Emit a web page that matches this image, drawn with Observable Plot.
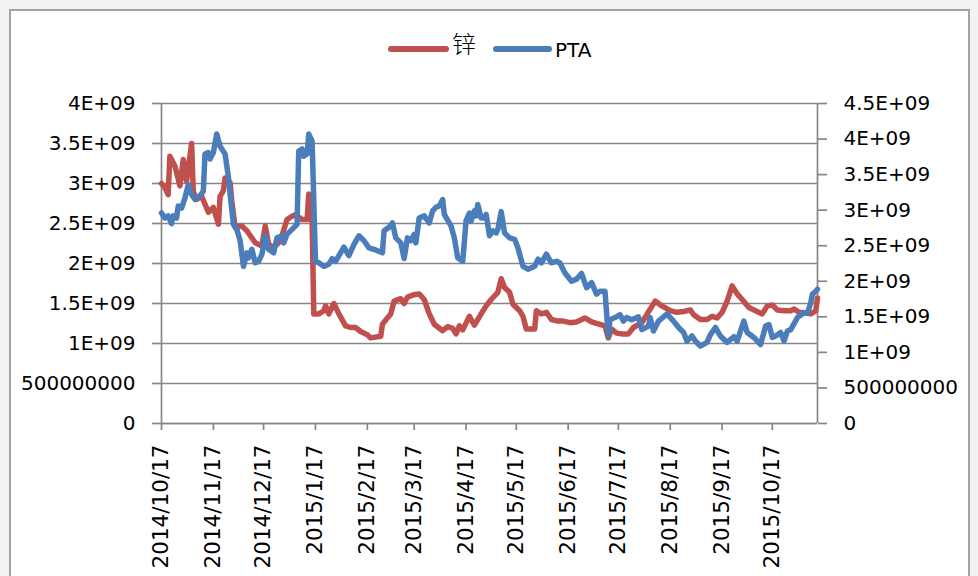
<!DOCTYPE html>
<html>
<head>
<meta charset="utf-8">
<script src="https://cdn.jsdelivr.net/npm/d3@7"></script>
<script src="https://cdn.jsdelivr.net/npm/@observablehq/plot@0.6"></script>
<style>
  html, body { margin: 0; padding: 0; background: #f2f2f2; width: 978px; height: 576px; overflow: hidden; }
  #frame { position: absolute; left: 9px; top: 9px; width: 961px; height: 640px; background: #fff; border: 2px solid #a3a3a3; box-sizing: border-box; }
  #legend { position: absolute; left: 0; top: 0; }
  #chart { position: absolute; left: 0; top: 0; }
</style>
</head>
<body>
<div id="frame"></div>
<svg id="legend" width="978" height="80"></svg>
<div id="chart"></div>
<script>
// ---- data (values in units of 1e9) ----
const seriesNames = ["锌", "PTA"];
const seriesColors = ["#c0504d", "#4a7dba"];

const zincDates = [
  "2014-10-17","2014-10-19","2014-10-21","2014-10-22","2014-10-25","2014-10-28","2014-10-30","2014-11-01","2014-11-04","2014-11-05",
  "2014-11-07","2014-11-10","2014-11-12","2014-11-14","2014-11-17","2014-11-20","2014-11-21","2014-11-23","2014-11-24","2014-11-27",
  "2014-11-28","2014-11-30","2014-12-04","2014-12-07","2014-12-12","2014-12-16","2014-12-18","2014-12-20","2014-12-23","2014-12-27",
  "2014-12-31","2015-01-03","2015-01-05","2015-01-09","2015-01-12","2015-01-13","2015-01-14","2015-01-15","2015-01-16","2015-01-19",
  "2015-01-22","2015-01-23","2015-01-25","2015-01-28","2015-01-31","2015-02-04","2015-02-07","2015-02-10","2015-02-13","2015-02-17",
  "2015-02-19","2015-02-25","2015-02-26","2015-03-01","2015-03-03","2015-03-05","2015-03-09","2015-03-11","2015-03-13","2015-03-17",
  "2015-03-20","2015-03-23","2015-03-26","2015-03-29","2015-04-03","2015-04-06","2015-04-09","2015-04-11","2015-04-13","2015-04-15",
  "2015-04-19","2015-04-22","2015-04-26","2015-04-29","2015-05-02","2015-05-06","2015-05-08","2015-05-10","2015-05-13","2015-05-15",
  "2015-05-19","2015-05-21","2015-05-23","2015-05-28","2015-05-29","2015-06-01","2015-06-04","2015-06-07","2015-06-11","2015-06-14",
  "2015-06-18","2015-06-22","2015-06-27","2015-07-01","2015-07-06","2015-07-09","2015-07-11","2015-07-13","2015-07-16","2015-07-19",
  "2015-07-23","2015-07-26","2015-07-31","2015-08-05","2015-08-08","2015-08-12","2015-08-17","2015-08-21","2015-08-25","2015-08-29",
  "2015-08-31","2015-09-04","2015-09-08","2015-09-11","2015-09-14","2015-09-17","2015-09-20","2015-09-23","2015-09-26","2015-09-29",
  "2015-10-03","2015-10-07","2015-10-11","2015-10-14","2015-10-17","2015-10-20","2015-10-24","2015-10-28","2015-10-30","2015-11-02",
  "2015-11-06","2015-11-09","2015-11-12","2015-11-13"
];
const zincValues = [
  3.00,2.95,2.86,3.34,3.22,2.97,3.30,3.03,3.50,2.90,
  2.80,2.84,2.74,2.64,2.70,2.49,2.84,2.91,3.07,3.01,
  2.78,2.45,2.47,2.41,2.26,2.22,2.47,2.24,2.20,2.28,
  2.55,2.59,2.61,2.55,2.55,2.87,2.55,2.53,1.37,1.37,
  1.41,1.47,1.37,1.50,1.37,1.22,1.20,1.20,1.15,1.11,
  1.07,1.09,1.24,1.32,1.37,1.53,1.56,1.50,1.58,1.61,
  1.62,1.55,1.37,1.24,1.16,1.21,1.19,1.12,1.22,1.17,
  1.34,1.23,1.37,1.47,1.55,1.64,1.81,1.70,1.64,1.49,
  1.41,1.34,1.18,1.18,1.41,1.37,1.39,1.30,1.28,1.28,
  1.26,1.27,1.32,1.27,1.24,1.22,1.07,1.18,1.13,1.12,
  1.12,1.20,1.26,1.43,1.53,1.47,1.41,1.39,1.40,1.42,
  1.36,1.30,1.30,1.34,1.32,1.39,1.53,1.72,1.62,1.55,
  1.45,1.41,1.37,1.47,1.48,1.42,1.41,1.41,1.43,1.39,
  1.38,1.37,1.41,1.57
];

const ptaDates = [
  "2014-10-17","2014-10-19","2014-10-21","2014-10-23","2014-10-24","2014-10-26","2014-10-27","2014-10-29","2014-10-31","2014-11-02",
  "2014-11-04","2014-11-06","2014-11-09","2014-11-11","2014-11-12","2014-11-14","2014-11-15","2014-11-17","2014-11-19","2014-11-21",
  "2014-11-24","2014-11-26","2014-11-27","2014-11-29","2014-12-01","2014-12-03","2014-12-05","2014-12-07","2014-12-08","2014-12-10",
  "2014-12-12","2014-12-14","2014-12-16","2014-12-18","2014-12-20","2014-12-23","2014-12-25","2014-12-28","2014-12-29","2014-12-31",
  "2015-01-03","2015-01-06","2015-01-07","2015-01-09","2015-01-10","2015-01-12","2015-01-13","2015-01-15","2015-01-17","2015-01-19",
  "2015-01-22","2015-01-25","2015-01-27","2015-01-29","2015-02-01","2015-02-03","2015-02-06","2015-02-09","2015-02-12","2015-02-15",
  "2015-02-18","2015-02-22","2015-02-26","2015-02-27","2015-03-02","2015-03-04","2015-03-06","2015-03-09","2015-03-11","2015-03-13",
  "2015-03-15","2015-03-17","2015-03-18","2015-03-20","2015-03-23","2015-03-26","2015-03-28","2015-03-30","2015-04-01","2015-04-03",
  "2015-04-04","2015-04-08","2015-04-10","2015-04-12","2015-04-15","2015-04-17","2015-04-19","2015-04-20","2015-04-22","2015-04-23",
  "2015-04-24","2015-04-26","2015-04-28","2015-04-29","2015-05-01","2015-05-03","2015-05-05","2015-05-06","2015-05-08","2015-05-10",
  "2015-05-13","2015-05-16","2015-05-18","2015-05-21","2015-05-24","2015-05-28","2015-05-30","2015-06-01","2015-06-04","2015-06-07",
  "2015-06-10","2015-06-12","2015-06-15","2015-06-19","2015-06-22","2015-06-25","2015-06-28","2015-07-01","2015-07-04","2015-07-06",
  "2015-07-09","2015-07-11","2015-07-12","2015-07-15","2015-07-18","2015-07-20","2015-07-22","2015-07-25","2015-07-29","2015-07-31",
  "2015-08-04","2015-08-05","2015-08-07","2015-08-10","2015-08-15","2015-08-19","2015-08-22","2015-08-25","2015-08-27","2015-08-30",
  "2015-09-01","2015-09-04","2015-09-08","2015-09-10","2015-09-13","2015-09-16","2015-09-20","2015-09-24","2015-09-26","2015-09-30",
  "2015-10-02","2015-10-06","2015-10-10","2015-10-13","2015-10-15","2015-10-17","2015-10-19","2015-10-22","2015-10-24","2015-10-26",
  "2015-10-28","2015-11-01","2015-11-05","2015-11-07","2015-11-09","2015-11-10","2015-11-12","2015-11-13"
];
const ptaValues = [
  2.96,2.89,2.92,2.81,2.92,2.89,3.06,3.03,3.17,3.36,
  3.22,3.15,3.20,3.27,3.79,3.81,3.72,3.81,4.07,3.90,
  3.79,3.46,3.22,2.80,2.73,2.57,2.21,2.40,2.33,2.45,
  2.26,2.28,2.38,2.64,2.45,2.40,2.61,2.64,2.54,2.66,
  2.73,2.80,3.83,3.86,3.76,3.79,4.07,3.97,2.28,2.26,
  2.21,2.24,2.32,2.28,2.40,2.48,2.36,2.52,2.64,2.57,
  2.47,2.44,2.40,2.71,2.76,2.82,2.61,2.54,2.32,2.61,
  2.57,2.66,2.54,2.89,2.92,2.82,2.99,3.04,3.06,3.15,
  2.94,2.78,2.61,2.33,2.28,2.85,2.96,2.85,2.99,2.92,
  3.08,2.89,2.89,2.94,2.64,2.71,2.68,2.73,2.98,2.68,
  2.61,2.59,2.47,2.21,2.17,2.21,2.31,2.26,2.38,2.26,
  2.28,2.26,2.12,2.00,2.03,2.11,1.91,1.98,1.82,1.86,
  1.86,1.23,1.46,1.49,1.53,1.44,1.49,1.46,1.50,1.32,
  1.37,1.49,1.30,1.44,1.54,1.44,1.35,1.28,1.16,1.23,
  1.16,1.09,1.14,1.25,1.35,1.23,1.14,1.22,1.16,1.44,
  1.28,1.21,1.11,1.37,1.39,1.21,1.23,1.28,1.16,1.30,
  1.32,1.49,1.56,1.55,1.70,1.82,1.86,1.89
];

const xTickLabels = ["2014/10/17","2014/11/17","2014/12/17","2015/1/17","2015/2/17","2015/3/17","2015/4/17",
                     "2015/5/17","2015/6/17","2015/7/17","2015/8/17","2015/9/17","2015/10/17"];
const xDomainLabels = ["2014/10/17", "2015/11/13"];
const leftTicks = [0, 5e8, 1e9, 1.5e9, 2e9, 2.5e9, 3e9, 3.5e9, 4e9];
const rightTicks = [0, 5e8, 1e9, 1.5e9, 2e9, 2.5e9, 3e9, 3.5e9, 4e9, 4.5e9];
const leftMax = 4e9, rightMax = 4.5e9;
const UNIT = 1e9;

// ---- build ----
const parseSlash = s => { const [y, m, d] = s.split("/").map(Number); return new Date(Date.UTC(y, m - 1, d)); };
const parseDash = s => { const [y, m, d] = s.split("-").map(Number); return new Date(Date.UTC(y, m - 1, d)); };
const zinc = zincDates.map((d, i) => ({date: parseDash(d), value: zincValues[i] * UNIT}));
const pta = ptaDates.map((d, i) => ({date: parseDash(d), value: ptaValues[i] * UNIT}));
const ratio = leftMax / rightMax;
const xTicks = xTickLabels.map(parseSlash);
const xDomain = xDomainLabels.map(parseSlash);

const fmt = v => v === 0 ? "0" : v < 1e9 ? String(v) : (v / 1e9) + "E+09";
const dateFmt = d => `${d.getUTCFullYear()}/${d.getUTCMonth() + 1}/${d.getUTCDate()}`;
const gridColor = "#868686";

const chart = Plot.plot({
  width: 978,
  height: 576,
  marginLeft: 161,
  marginRight: 161,
  marginTop: 103,
  marginBottom: 153,
  style: {background: "transparent", fontFamily: "DejaVu Sans", fontSize: "20px", color: "#000", overflow: "visible"},
  x: {type: "utc", domain: xDomain, label: null},
  y: {domain: [0, leftMax], label: null},
  marks: [
    Plot.gridY(leftTicks, {stroke: gridColor, strokeOpacity: 1, strokeWidth: 1.7}),
    Plot.ruleX(xDomain, {stroke: gridColor, strokeWidth: 1.7}),
    Plot.ruleY([0], {stroke: gridColor, strokeWidth: 1.7}),
    Plot.axisY(leftTicks, {anchor: "left", tickSize: 9, tickPadding: 17, tickFormat: fmt,
      stroke: gridColor, strokeWidth: 1.7, fill: "#000", fontSize: 20, label: null}),
    Plot.axisY(rightTicks.map(v => v * ratio), {anchor: "right", tickSize: 9, tickPadding: 17,
      tickFormat: d => fmt(Math.round(d / ratio / 1e8) * 1e8),
      stroke: gridColor, strokeWidth: 1.7, fill: "#000", fontSize: 20, label: null}),
    Plot.axisX(xTicks, {anchor: "bottom", tickSize: 7, tickPadding: 14, tickRotate: -90, tickFormat: dateFmt,
      stroke: gridColor, strokeWidth: 1.7, fill: "#000", fontSize: 21.5, label: null}),
    Plot.line(zinc, {x: "date", y: "value", stroke: seriesColors[0], strokeWidth: 5.5,
      strokeLinejoin: "round", strokeLinecap: "round"}),
    Plot.line(pta, {x: "date", y: d => d.value * ratio, stroke: seriesColors[1], strokeWidth: 5.5,
      strokeLinejoin: "round", strokeLinecap: "round"})
  ]
});
document.getElementById("chart").appendChild(chart);

// ---- legend ----
const legend = d3.select("#legend");
const items = [
  {name: seriesNames[0], color: seriesColors[0], x1: 391, x2: 446, tx: 452, ty: 53, font: "Noto Sans CJK SC", size: 24, weight: 300},
  {name: seriesNames[1], color: seriesColors[1], x1: 496, x2: 549, tx: 555, ty: 57, font: "DejaVu Sans", size: 20, weight: 400}
];
for (const it of items) {
  legend.append("line").attr("x1", it.x1).attr("x2", it.x2).attr("y1", 49).attr("y2", 49)
    .attr("stroke", it.color).attr("stroke-width", 6).attr("stroke-linecap", "round");
  legend.append("text").attr("x", it.tx).attr("y", it.ty).attr("font-family", it.font)
    .attr("font-size", it.size).attr("font-weight", it.weight).attr("fill", "#000").text(it.name);
}
</script>
</body>
</html>
